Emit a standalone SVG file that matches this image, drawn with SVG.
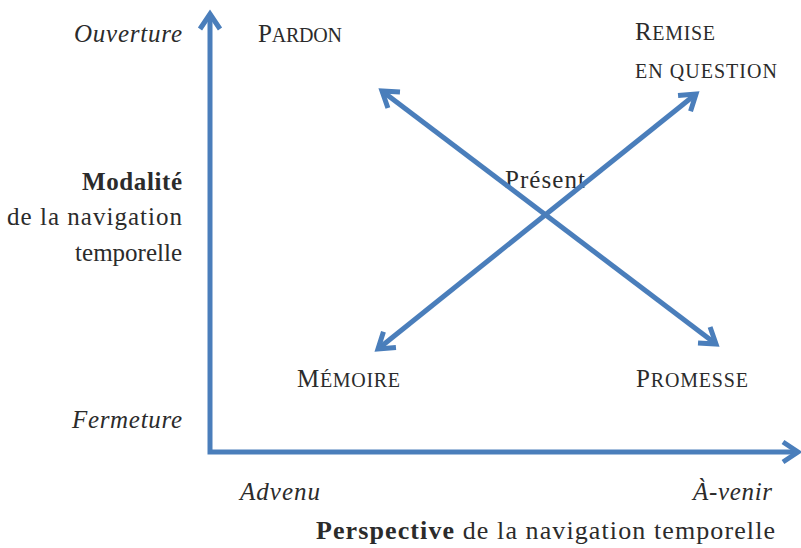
<svg xmlns="http://www.w3.org/2000/svg" width="801" height="548" viewBox="0 0 801 548">
<style>
.t { font-family: "Liberation Serif", "DejaVu Serif", serif; fill: #2b2b2b; font-size: 25px; }
.i { font-style: italic; }
.b { font-weight: bold; }
.sc { font-size: 20px; }
.big { font-size: 26px; }
.ln { stroke: #4A7EBB; stroke-width: 5; fill: none; stroke-linejoin: miter; }
</style>
<defs>
<marker id="ah" markerUnits="userSpaceOnUse" viewBox="-22 -16 30 32" markerWidth="30" markerHeight="32" refX="0" refY="0" orient="auto-start-reverse">
<path d="M-15,-10 L0,0 L-15,10" fill="none" stroke="#4A7EBB" stroke-width="5" stroke-linejoin="miter"/>
</marker>
</defs>
<rect width="801" height="548" fill="#ffffff"/>
<g id="ouverture"><text class="t i" x="182" y="42" text-anchor="end" textLength="108" lengthAdjust="spacing">Ouverture</text></g>
<g id="pardon"><text class="t" x="258" y="42" textLength="84" lengthAdjust="spacing">P<tspan class="sc">ARDON</tspan></text></g>
<g id="remise"><text class="t" x="635" y="40" textLength="80" lengthAdjust="spacing">R<tspan class="sc">EMISE</tspan></text>
<text class="t sc" x="635" y="78" textLength="142" lengthAdjust="spacing">EN QUESTION</text></g>
<g id="modalite"><text class="t b" x="182" y="190" text-anchor="end" textLength="100" lengthAdjust="spacing">Modalité</text>
<text class="t" x="182" y="225" text-anchor="end" textLength="175" lengthAdjust="spacing">de la navigation</text>
<text class="t" x="182" y="261" text-anchor="end">temporelle</text></g>
<g id="present"><text class="t" x="505" y="188" textLength="80" lengthAdjust="spacing">Présent</text></g>
<g id="memoire"><text class="t" x="297" y="387" textLength="103" lengthAdjust="spacing">M<tspan class="sc">ÉMOIRE</tspan></text></g>
<g id="promesse"><text class="t" x="636" y="387" textLength="112" lengthAdjust="spacing">P<tspan class="sc">ROMESSE</tspan></text></g>
<g id="fermeture"><text class="t i" x="182" y="428" text-anchor="end" textLength="110" lengthAdjust="spacing">Fermeture</text></g>
<g id="advenu"><text class="t i" x="240" y="500" textLength="80" lengthAdjust="spacing">Advenu</text></g>
<g id="avenir"><text class="t i" x="693" y="500" textLength="79" lengthAdjust="spacing">À-venir</text></g>
<g id="perspective"><text class="t big" x="316" y="539" textLength="459" lengthAdjust="spacing"><tspan class="b">Perspective</tspan> de la navigation temporelle</text></g>
<g id="connectors">
<path class="ln" d="M210,14 L210,452 L798,452" marker-start="url(#ah)" marker-end="url(#ah)"/>
<line class="ln" x1="382" y1="91" x2="716" y2="344" marker-start="url(#ah)" marker-end="url(#ah)"/>
<line class="ln" x1="378" y1="349" x2="696" y2="94" marker-start="url(#ah)" marker-end="url(#ah)"/>
</g>
</svg>
